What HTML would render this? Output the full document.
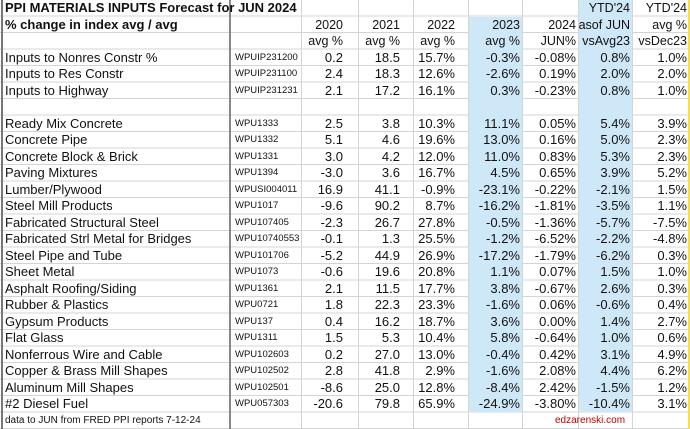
<!DOCTYPE html>
<html><head><meta charset="utf-8"><style>
html,body{margin:0;padding:0;background:#fff;width:690px;height:429px;overflow:hidden;position:relative}
body{font-family:"Liberation Sans",Arial,sans-serif;font-size:13px;color:#111}
.bg{position:absolute;left:0;top:0;width:690px;height:429px;background:repeating-linear-gradient(to bottom,transparent 0,transparent 15.5px,#d4d4d4 15.5px,#d4d4d4 16.5px)}
.bl{position:absolute;background:#cfe8f8}
.v{position:absolute;top:0;height:429px;width:1px;background:#d4d4d4}
.r{position:absolute;left:0;width:690px;height:16.5px;line-height:16.5px;white-space:nowrap}
.r span{position:absolute;top:0}
.a{left:5px}
.b{left:235px;font-size:9.5px}
.c{right:347px}
.d{right:290px}
.e{right:235px}
.f{right:170px}
.g{right:114px}
.h{right:60px}
.i{right:3px}
.hd span{font-size:12.5px}
.hd span.t{font-size:13px}
.t{font-weight:bold;font-size:13px}
</style></head><body>
<div class="bg"></div>
<div class="bl" style="left:468px;top:17px;width:54px;height:395px"></div>
<div class="bl" style="left:578px;top:0;width:54px;height:412px"></div>
<div class="v" style="left:301px"></div>
<div class="v" style="left:358px"></div>
<div class="v" style="left:413px"></div>
<div class="v" style="left:468px"></div>
<div class="v" style="left:522px"></div>
<div class="v" style="left:578px"></div>
<div class="v" style="left:632px"></div>
<div class="v" style="left:1px;width:2px;background:#777"></div>
<div class="v" style="left:229px;width:2px;background:#888"></div>
<div class="v" style="left:688px;width:2px;background:#f4e04a"></div>

<div class="r hd" style="top:0"><span class="a t">PPI MATERIALS INPUTS Forecast for JUN 2024</span><span class="h">YTD'24</span><span class="i">YTD'24</span></div>
<div class="r hd" style="top:16.5px"><span class="a t">% change in index avg / avg</span><span class="c">2020</span><span class="d">2021</span><span class="e">2022</span><span class="f">2023</span><span class="g">2024</span><span class="h">asof JUN</span><span class="i">avg %</span></div>
<div class="r hd" style="top:33px"><span class="c">avg %</span><span class="d">avg %</span><span class="e">avg %</span><span class="f">avg %</span><span class="g">JUN%</span><span class="h">vsAvg23</span><span class="i">vsDec23</span></div>
<div class="r" style="top:49.5px"><span class="a">Inputs to Nonres Constr %</span><span class="b">WPUIP231200</span><span class="c">0.2</span><span class="d">18.5</span><span class="e">15.7%</span><span class="f">-0.3%</span><span class="g">-0.08%</span><span class="h">0.8%</span><span class="i">1.0%</span></div>
<div class="r" style="top:66px"><span class="a">Inputs to Res Constr</span><span class="b">WPUIP231100</span><span class="c">2.4</span><span class="d">18.3</span><span class="e">12.6%</span><span class="f">-2.6%</span><span class="g">0.19%</span><span class="h">2.0%</span><span class="i">2.0%</span></div>
<div class="r" style="top:82.5px"><span class="a">Inputs to Highway</span><span class="b">WPUIP231231</span><span class="c">2.1</span><span class="d">17.2</span><span class="e">16.1%</span><span class="f">0.3%</span><span class="g">-0.23%</span><span class="h">0.8%</span><span class="i">1.0%</span></div>
<div class="r" style="top:115.5px"><span class="a">Ready Mix Concrete</span><span class="b">WPU1333</span><span class="c">2.5</span><span class="d">3.8</span><span class="e">10.3%</span><span class="f">11.1%</span><span class="g">0.05%</span><span class="h">5.4%</span><span class="i">3.9%</span></div>
<div class="r" style="top:132px"><span class="a">Concrete Pipe</span><span class="b">WPU1332</span><span class="c">5.1</span><span class="d">4.6</span><span class="e">19.6%</span><span class="f">13.0%</span><span class="g">0.16%</span><span class="h">5.0%</span><span class="i">2.3%</span></div>
<div class="r" style="top:148.5px"><span class="a">Concrete Block &amp; Brick</span><span class="b">WPU1331</span><span class="c">3.0</span><span class="d">4.2</span><span class="e">12.0%</span><span class="f">11.0%</span><span class="g">0.83%</span><span class="h">5.3%</span><span class="i">2.3%</span></div>
<div class="r" style="top:165px"><span class="a">Paving Mixtures</span><span class="b">WPU1394</span><span class="c">-3.0</span><span class="d">3.6</span><span class="e">16.7%</span><span class="f">4.5%</span><span class="g">0.65%</span><span class="h">3.9%</span><span class="i">5.2%</span></div>
<div class="r" style="top:181.5px"><span class="a">Lumber/Plywood</span><span class="b">WPUSI004011</span><span class="c">16.9</span><span class="d">41.1</span><span class="e">-0.9%</span><span class="f">-23.1%</span><span class="g">-0.22%</span><span class="h">-2.1%</span><span class="i">1.5%</span></div>
<div class="r" style="top:198px"><span class="a">Steel Mill Products</span><span class="b">WPU1017</span><span class="c">-9.6</span><span class="d">90.2</span><span class="e">8.7%</span><span class="f">-16.2%</span><span class="g">-1.81%</span><span class="h">-3.5%</span><span class="i">1.1%</span></div>
<div class="r" style="top:214.5px"><span class="a">Fabricated Structural Steel</span><span class="b">WPU107405</span><span class="c">-2.3</span><span class="d">26.7</span><span class="e">27.8%</span><span class="f">-0.5%</span><span class="g">-1.36%</span><span class="h">-5.7%</span><span class="i">-7.5%</span></div>
<div class="r" style="top:231px"><span class="a">Fabricated Strl Metal for Bridges</span><span class="b">WPU10740553</span><span class="c">-0.1</span><span class="d">1.3</span><span class="e">25.5%</span><span class="f">-1.2%</span><span class="g">-6.52%</span><span class="h">-2.2%</span><span class="i">-4.8%</span></div>
<div class="r" style="top:247.5px"><span class="a">Steel Pipe and Tube</span><span class="b">WPU101706</span><span class="c">-5.2</span><span class="d">44.9</span><span class="e">26.9%</span><span class="f">-17.2%</span><span class="g">-1.79%</span><span class="h">-6.2%</span><span class="i">0.3%</span></div>
<div class="r" style="top:264px"><span class="a">Sheet Metal</span><span class="b">WPU1073</span><span class="c">-0.6</span><span class="d">19.6</span><span class="e">20.8%</span><span class="f">1.1%</span><span class="g">0.07%</span><span class="h">1.5%</span><span class="i">1.0%</span></div>
<div class="r" style="top:280.5px"><span class="a">Asphalt Roofing/Siding</span><span class="b">WPU1361</span><span class="c">2.1</span><span class="d">11.5</span><span class="e">17.7%</span><span class="f">3.8%</span><span class="g">-0.67%</span><span class="h">2.6%</span><span class="i">0.3%</span></div>
<div class="r" style="top:297px"><span class="a">Rubber &amp; Plastics</span><span class="b">WPU0721</span><span class="c">1.8</span><span class="d">22.3</span><span class="e">23.3%</span><span class="f">-1.6%</span><span class="g">0.06%</span><span class="h">-0.6%</span><span class="i">0.4%</span></div>
<div class="r" style="top:313.5px"><span class="a">Gypsum Products</span><span class="b">WPU137</span><span class="c">0.4</span><span class="d">16.2</span><span class="e">18.7%</span><span class="f">3.6%</span><span class="g">0.00%</span><span class="h">1.4%</span><span class="i">2.7%</span></div>
<div class="r" style="top:330px"><span class="a">Flat Glass</span><span class="b">WPU1311</span><span class="c">1.5</span><span class="d">5.3</span><span class="e">10.4%</span><span class="f">5.8%</span><span class="g">-0.64%</span><span class="h">1.0%</span><span class="i">0.6%</span></div>
<div class="r" style="top:346.5px"><span class="a">Nonferrous Wire and Cable</span><span class="b">WPU102603</span><span class="c">0.2</span><span class="d">27.0</span><span class="e">13.0%</span><span class="f">-0.4%</span><span class="g">0.42%</span><span class="h">3.1%</span><span class="i">4.9%</span></div>
<div class="r" style="top:363px"><span class="a">Copper &amp; Brass Mill Shapes</span><span class="b">WPU102502</span><span class="c">2.8</span><span class="d">41.8</span><span class="e">2.9%</span><span class="f">-1.6%</span><span class="g">2.08%</span><span class="h">4.4%</span><span class="i">6.2%</span></div>
<div class="r" style="top:379.5px"><span class="a">Aluminum Mill Shapes</span><span class="b">WPU102501</span><span class="c">-8.6</span><span class="d">25.0</span><span class="e">12.8%</span><span class="f">-8.4%</span><span class="g">2.42%</span><span class="h">-1.5%</span><span class="i">1.2%</span></div>
<div class="r" style="top:396px"><span class="a">#2 Diesel Fuel</span><span class="b">WPU057303</span><span class="c">-20.6</span><span class="d">79.8</span><span class="e">65.9%</span><span class="f">-24.9%</span><span class="g">-3.80%</span><span class="h">-10.4%</span><span class="i">3.1%</span></div>
<div class="r" style="top:412.5px"><span class="a" style="font-size:10px">data to JUN from FRED PPI reports 7-12-24</span><span style="left:555px;font-size:10px;color:#c00000">edzarenski.com</span></div>
</body></html>
